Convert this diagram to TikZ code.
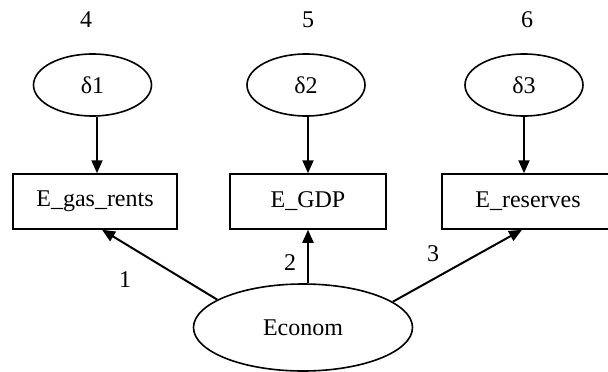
\documentclass[tikz,border=0pt]{standalone}
\usepackage{fontspec}
\setmainfont{Liberation Serif}
\usetikzlibrary{shapes.geometric,arrows.meta}
\tikzset{
  latent/.style={draw, ellipse, line width=1.6pt, inner sep=0pt, font=\fontsize{24}{26}\selectfont},
  observed/.style={draw, rectangle, line width=1.5pt, minimum height=55pt, inner sep=0pt, font=\fontsize{24}{26}\selectfont},
  path/.style={line width=2pt, -{Triangle[length=13pt,width=11pt]}},
  coef/.style={font=\fontsize{24}{26}\selectfont, inner sep=0pt}
}
\begin{document}
\begin{tikzpicture}[x=1pt,y=-1pt]
  \useasboundingbox (0,0) rectangle (608,372);
  \clip (0,0) rectangle (608,372);

  % error terms and their variance labels
  \node[latent, minimum width=118pt, minimum height=62pt] (d1) at (92.5,85) {δ1};
  \node[latent, minimum width=118pt, minimum height=62pt] (d2) at (306,85) {δ2};
  \node[latent, minimum width=118pt, minimum height=62pt] (d3) at (524,85) {δ3};
  \node[coef] (v4) at (86,20) {4};
  \node[coef] (v5) at (308,20) {5};
  \node[coef] (v6) at (527,20) {6};

  % observed indicators
  \node[observed, minimum width=164pt] (gas) at (95,201.5) {E\_gas\_rents};
  \node[observed, minimum width=156pt] (gdp) at (308,201.5) {E\_GDP};
  \node[observed, minimum width=172pt] (res) at (528,201.5) {E\_reserves};

  % latent factor
  \node[latent, minimum width=219pt, minimum height=87pt] (econ) at (303,327.5) {Econom};

  % error paths
  \draw[path] (d1.south -| 97,0) -- (gas.north -| 97,0);
  \draw[path] (d2.south -| 308,0) -- (gdp.north);
  \draw[path] (d3.south) -- (d3.south |- res.north);

  % factor loadings
  \draw[path] (econ.162) -- ([xshift=7pt]gas.south);
  \draw[path] (gdp.south |- econ.north) -- (gdp.south);
  \draw[path] (econ.16) -- ([xshift=-6pt]res.south);

  \node[coef] (l1) at (125,280) {1};
  \node[coef] (l2) at (290,263) {2};
  \node[coef] (l3) at (433,254) {3};
\end{tikzpicture}
\end{document}
